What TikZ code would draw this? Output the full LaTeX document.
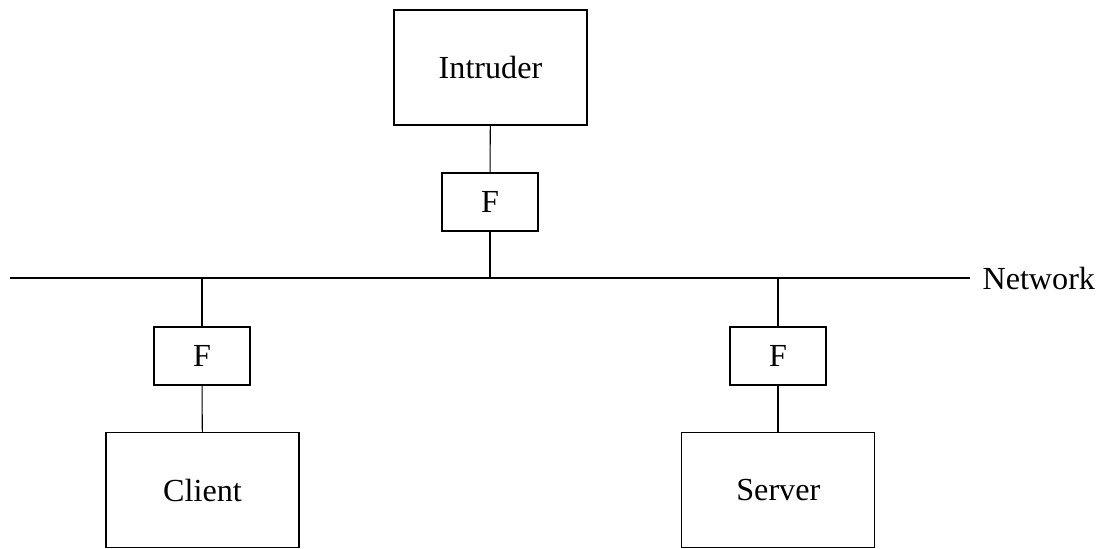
\documentclass[tikz,border=0pt]{standalone}
\usepackage{fontspec}
\setmainfont{Liberation Serif}
\usetikzlibrary{positioning}

\begin{document}
\begin{tikzpicture}[x=0.02cm,y=-0.02cm,line width=0.6pt,
	host/.style={draw,rectangle,minimum width=193*0.02cm,minimum height=115*0.02cm,inner sep=0pt,font=\fontsize{18.3}{22}\selectfont},
	filt/.style={draw,rectangle,minimum width=96*0.02cm,minimum height=58*0.02cm,inner sep=0pt,font=\fontsize{18.3}{22}\selectfont}]
			\useasboundingbox (0,0) rectangle (1101,548);
			\coordinate (netL) at (10,278);
			\coordinate (netR) at (970,278);
			\node[host] (intruder) at (490.5,67.5) {Intruder};
			\node[filt] (fI) at (490,202) {F};
			\node[filt] (fC) at (202,356) {F};
			\node[filt] (fS) at (778,356) {F};
			\node[host] (client) at (202.5,490) {Client};
			\node[host] (server) at (778.3,490) {Server};
			\draw (netL)--(netR);
			\node[right=12*0.02cm of netR,inner sep=0pt,font=\fontsize{18.3}{22}\selectfont] (netlabel) {Network};
			\draw (intruder)--(fI);
			\draw (fI.south)--(fI.south |- netL);
			\draw (fC.north |- netL)--(fC.north);
			\draw (fC)--(client);
			\draw (fS.north |- netL)--(fS.north);
			\draw (fS)--(server.north -| fS);
		\end{tikzpicture}
\end{document}
